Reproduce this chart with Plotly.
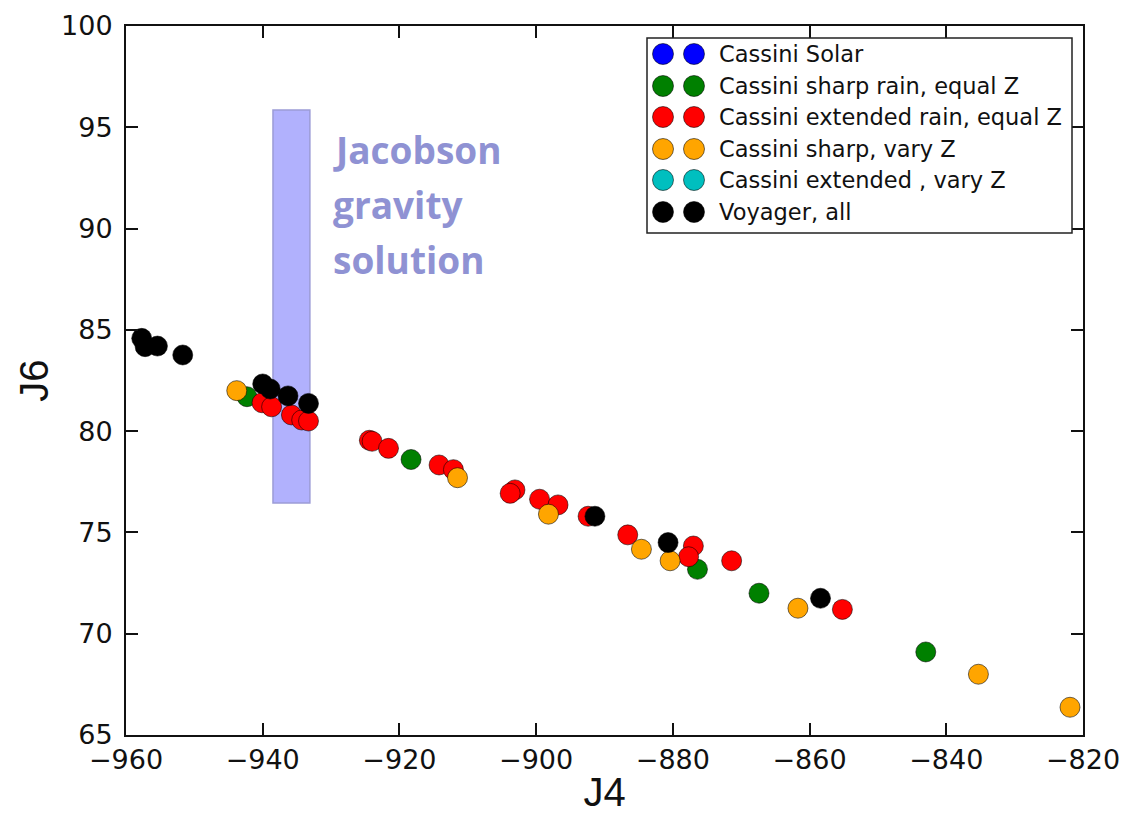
import plotly.graph_objects as go

# J4 / J6 pairs for each model family
green_j4 = [-942.3, -918.3, -876.4, -867.4, -843.0]
green_j6 = [81.7, 78.6, 73.18, 72.0, 69.1]

red_j4 = [-940.1, -938.7, -935.8, -934.3, -933.3, -924.4, -924.0, -921.6, -914.2, -912.1,
          -903.1, -903.8, -899.5, -896.8, -892.4, -886.6, -877.0, -877.7, -871.4, -855.2]
red_j6 = [81.4, 81.2, 80.8, 80.55, 80.5, 79.55, 79.5, 79.15, 78.33, 78.1,
          77.1, 76.93, 76.64, 76.36, 75.8, 74.88, 74.33, 73.8, 73.6, 71.2]

orange_j4 = [-943.8, -911.5, -898.2, -884.6, -880.4, -861.7, -835.3, -821.9]
orange_j6 = [82.0, 77.7, 75.9, 74.17, 73.6, 71.26, 68.0, 66.37]

black_j4 = [-957.7, -957.2, -955.4, -951.7, -940.0, -938.9, -936.3, -933.3, -891.4, -880.7, -858.4]
black_j6 = [84.58, 84.17, 84.2, 83.76, 82.33, 82.08, 81.74, 81.37, 75.8, 74.5, 71.75]

series = [
    ("Cassini Solar", "#0000ff", [], []),
    ("Cassini sharp rain, equal Z", "#008000", green_j4, green_j6),
    ("Cassini extended rain, equal Z", "#ff0000", red_j4, red_j6),
    ("Cassini sharp, vary Z", "#ffa500", orange_j4, orange_j6),
    ("Cassini extended , vary Z", "#00bfbf", [], []),
    ("Voyager, all", "#000000", black_j4, black_j6),
]

# Jacobson gravity solution band
jac_j4 = [-938.5, -933.1]
jac_j6 = [76.45, 95.85]
jac_label = ["Jacobson", "gravity", "solution"]

x_ticks = [-960, -940, -920, -900, -880, -860, -840, -820]
y_ticks = [65, 70, 75, 80, 85, 90, 95, 100]

fig = go.Figure()

shapes = [dict(type="rect", xref="x", yref="y",
               x0=jac_j4[0], x1=jac_j4[1], y0=jac_j6[0], y1=jac_j6[1],
               fillcolor="#b1b1fd", line=dict(color="#9c9cd6", width=1.5), layer="below")]

for name, color, xs, ys in series:
    fig.add_trace(go.Scatter(
        x=xs, y=ys, mode="markers", name=name, showlegend=False,
        marker=dict(size=20, color=color, line=dict(color="rgba(0,0,0,0.55)", width=1)),
    ))

annotations = []
for i, line in enumerate(jac_label):
    annotations.append(dict(
        x=-930.0, y=93.9 - i * 2.72, xref="x", yref="y", text=f"<b>{line}</b>",
        showarrow=False, xanchor="left", yanchor="middle",
        font=dict(family="Open Sans", size=37, color="#8f92d3"),
    ))

# legend box with two markers per entry
W, H = 957.0, 709.0
def px_x(p):
    return (p - 126) / W
def px_y(p):
    return (735 - p) / H

shapes.append(dict(type="rect", xref="paper", yref="paper",
                   x0=px_x(647), x1=px_x(1072), y0=px_y(233), y1=px_y(38),
                   fillcolor="white", line=dict(color="#222222", width=1.5), layer="above"))
row_y = [54, 86, 117, 149, 180, 212]
for (name, color, _, _), ry in zip(series, row_y):
    for cx in (663, 694):
        shapes.append(dict(type="circle", xref="paper", yref="paper",
                           xsizemode="pixel", ysizemode="pixel",
                           xanchor=px_x(cx), yanchor=px_y(ry),
                           x0=-10.5, x1=10.5, y0=-10.5, y1=10.5,
                           fillcolor=color, line=dict(color="rgba(0,0,0,0.55)", width=1),
                           layer="above"))
    annotations.append(dict(x=px_x(717), y=px_y(ry), xref="paper", yref="paper",
                            text=name, showarrow=False, xanchor="left", yanchor="middle",
                            font=dict(family="DejaVu Sans", size=22.5, color="#111111")))

axis_common = dict(
    showgrid=False, zeroline=False, showline=True, linecolor="#111111", linewidth=2,
    mirror="ticks", ticks="inside", ticklen=12, tickwidth=2, tickcolor="#111111",
    tickfont=dict(family="DejaVu Sans", size=27, color="#111111"), automargin=False,
)

fig.update_layout(
    width=1122, height=814,
    margin=dict(l=126, r=39, t=26, b=79),
    plot_bgcolor="white", paper_bgcolor="white",
    hovermode=False,
    shapes=shapes, annotations=annotations,
    xaxis=dict(range=[-960, -820], tickvals=x_ticks, ticktext=[f"\u2212{abs(v)}" for v in x_ticks],
               ticklabelstandoff=0,
               title=dict(text="J4", font=dict(family="Liberation Sans", size=40, color="#111111"), standoff=8),
               **axis_common),
    yaxis=dict(range=[65, 100], tickvals=y_ticks, ticklabelstandoff=6,
               title=dict(text="J6", font=dict(family="Liberation Sans", size=40, color="#111111"), standoff=0),
               **axis_common),
)

fig.write_html("out.html")
